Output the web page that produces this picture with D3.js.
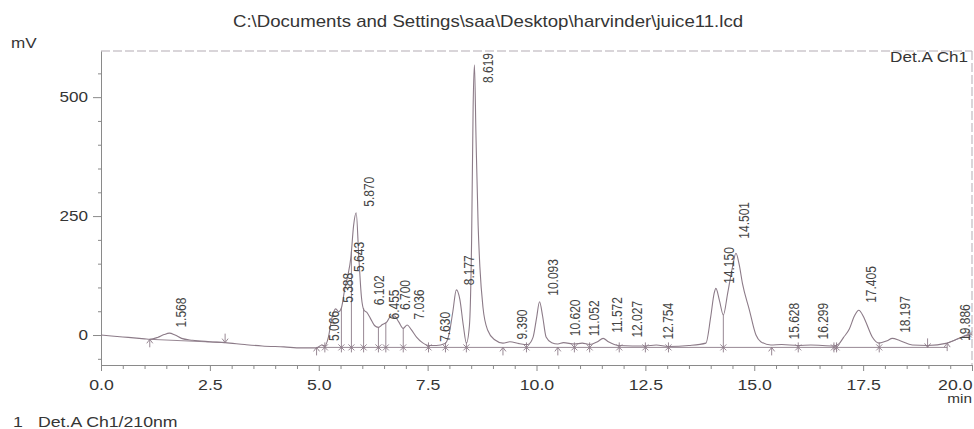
<!DOCTYPE html>
<html>
<head>
<meta charset="utf-8">
<script src="https://cdn.jsdelivr.net/npm/d3@7"></script>
<style>
    body { margin: 0; background: #fff; }
    svg { display: block; font-family: "Liberation Sans", Arial, sans-serif; }
</style>
</head>
<body>
<svg id="chart" width="974" height="429"></svg>
<script>
// detector trace (min, mV)
const traceTime = [0.00, 0.50, 1.00, 1.12, 1.30, 1.45, 1.57, 1.70, 1.85, 2.10, 2.50, 2.85, 3.30, 3.70, 4.20, 4.60,
    4.95, 5.07, 5.14, 5.22, 5.30, 5.39, 5.46, 5.52, 5.60, 5.66, 5.74, 5.80, 5.86, 5.92, 5.98, 6.04, 6.10, 6.18,
    6.28, 6.37, 6.46, 6.56, 6.66, 6.74, 6.84, 6.94, 7.03, 7.12, 7.25, 7.38, 7.52, 7.70, 7.90, 8.00, 8.08, 8.16,
    8.24, 8.32, 8.39, 8.46, 8.51, 8.545, 8.575, 8.61, 8.66, 8.70, 8.77, 8.88, 9.04, 9.23, 9.39, 9.60, 9.80, 9.92,
    10.00, 10.07, 10.14, 10.22, 10.35, 10.49, 10.62, 10.87, 11.05, 11.22, 11.40, 11.53, 11.65, 11.90, 12.20, 12.50,
    12.75, 13.03, 13.50, 13.89, 14.00, 14.08, 14.12, 14.20, 14.29, 14.39, 14.50, 14.58, 14.65, 14.73, 14.89, 15.04,
    15.15, 15.38, 15.63, 16.00, 16.30, 16.83, 16.95, 17.05, 17.18, 17.30, 17.40, 17.50, 17.56, 17.71, 17.87, 18.05,
    18.17, 18.35, 18.63, 18.98, 19.43, 19.70, 19.97, 20.00];
const traceMv = [0, -4, -8, -9, -5, 1, 4, 0, -7, -11, -14, -16, -20, -23, -25, -27,
    -27, -21, -23, -5, 35, 55, 49, 57, 98, 122, 165, 230, 257, 164, 80, 52, 48, 36,
    20, 16, 22, 27, 40, 40, 27, 14, 21, 12, -5, -16, -22, -22, -18, 5, 50, 95,
    75, 20, -17, 20, 200, 480, 568, 420, 230, 143, 59, 10, -10, -17, -14, -18, -20, -5,
    35, 70, 40, -4, -16, -19, -16, -19, -17, -20, -14, -7, -14, -22, -23, -23,
    -21, -24, -22, -17, 38, 88, 98, 73, 42, 88, 143, 172, 150, 108, 52, 0,
    -14, -21, -20, -22, -21, -23, -18, -5, 12, 40, 52, 40, 28, -4, -17, -12,
    -7, -12, -21, -22, -17, -7, 2, 2];

// retention times printed over the peaks, and the level each label sits at
const peakTimes = [1.568, 5.066, 5.388, 5.643, 5.870, 6.102, 6.455, 6.700, 7.036, 7.630, 8.177, 8.619, 9.390,
    10.093, 10.620, 11.052, 11.572, 12.027, 12.754, 14.150, 14.501, 15.628, 16.299, 17.405, 18.197, 19.886];
const labelLevel = [3, -25, 55, 120, 257, 50, 20, 40, 20, -27, 92, 568, -22,
    70, -15, -15, -8, -18, -22, 95, 190, -22, -22, 55, -8, -25];

// integration marks and baselines
const markTimes = [1.12, 2.85, 4.95, 5.14, 5.52, 5.75, 6.03, 6.37, 6.54, 6.94, 7.52, 7.91, 8.39, 9.23, 9.77,
    10.49, 10.87, 11.22, 11.90, 12.50, 13.03, 14.29, 15.40, 16.01, 16.83, 16.89, 17.87, 18.98, 19.43, 19.93];
const markKinds = ["up", "down", "up", "x", "x", "x", "x", "x", "x", "x", "x", "x", "x", "up", "x",
    "up", "x", "x", "x", "x", "x", "x", "up", "x", "x", "x", "x", "down", "up", "x"];
const baseStart = [1.12, 4.95, 19.43];
const baseEnd = [2.85, 19.43, 19.93];
const baseFrom = [-9, -26, -17];
const baseTo = [-16, -26, 1];

const xTicks = [0, 2.5, 5, 7.5, 10, 12.5, 15, 17.5, 20];
const yTicks = [0, 250, 500];

const svg = d3.select("#chart");
const plotL = 101, plotR = 972, plotT = 51, plotB = 365;
const sx = 1.18; // the scan is a bit wider than tall
const ink = "#353535";
const axisCol = "#8a8a8a";
const penCol = "#8c7b88";

const x = d3.scaleLinear().domain([0, 20]).range([plotL, plotR]);
const y = d3.scaleLinear().domain([-63, 597]).range([plotB, plotT]);

function traceAt(t) {
    const i = d3.bisectLeft(traceTime, t);
    if (i <= 0) return traceMv[0];
    if (i >= traceTime.length) return traceMv[traceMv.length - 1];
    const t0 = traceTime[i - 1], t1 = traceTime[i];
    return traceMv[i - 1] + (traceMv[i] - traceMv[i - 1]) * (t - t0) / (t1 - t0);
}

function baseAt(t) {
    let v = null;
    baseStart.forEach((s, i) => {
        if (t >= s - 1e-6 && t <= baseEnd[i] + 1e-6) {
            v = baseFrom[i] + (baseTo[i] - baseFrom[i]) * (t - s) / (baseEnd[i] - s);
        }
    });
    return v === null ? traceAt(t) : v;
}

function addText(txt, px, py, size, anchor) {
    return svg.append("text")
        .attr("transform", `translate(${px},${py}) scale(${sx},1)`)
        .attr("text-anchor", anchor || "start")
        .attr("font-size", size)
        .attr("fill", ink)
        .text(txt);
}

// frame: dashed top and right
svg.append("line").attr("x1", plotL).attr("x2", plotR).attr("y1", plotT).attr("y2", plotT)
    .attr("stroke", "#b3abb3").attr("stroke-dasharray", "9,3");
svg.append("line").attr("x1", plotR).attr("x2", plotR).attr("y1", plotT).attr("y2", plotB)
    .attr("stroke", "#b3abb3").attr("stroke-dasharray", "9,3");

// x axis
const xMinor = d3.range(0, 20.01, 0.5).filter(d => xTicks.indexOf(d) < 0);
const xm = svg.append("g").attr("transform", `translate(0,${plotB})`)
    .call(d3.axisBottom(x).tickValues(xMinor).tickSize(4).tickSizeOuter(0).tickFormat(""));
xm.select(".domain").remove();
xm.selectAll(".tick line").attr("stroke", axisCol);

const xa = svg.append("g").attr("transform", `translate(0,${plotB})`)
    .call(d3.axisBottom(x).tickValues(xTicks).tickSize(6).tickSizeOuter(0).tickPadding(8)
        .tickFormat(d3.format(".1f")));
xa.select(".domain").attr("stroke", axisCol);
xa.selectAll(".tick line").attr("stroke", axisCol);
xa.selectAll(".tick text")
    .attr("font-family", "Liberation Sans, Arial, sans-serif")
    .attr("font-size", 15)
    .attr("fill", ink)
    .attr("transform", `scale(${sx},1)`)
    .filter(d => d === 20).attr("text-anchor", "end");

// y axis
const yMinor = d3.range(-50, 551, 50).filter(d => yTicks.indexOf(d) < 0);
const ym = svg.append("g").attr("transform", `translate(${plotL},0)`)
    .call(d3.axisLeft(y).tickValues(yMinor).tickSize(3).tickSizeOuter(0).tickFormat(""));
ym.select(".domain").remove();
ym.selectAll(".tick line").attr("stroke", axisCol);

const ya = svg.append("g").attr("transform", `translate(${plotL},0)`)
    .call(d3.axisLeft(y).tickValues(yTicks).tickSize(8).tickSizeOuter(0).tickPadding(3));
ya.select(".domain").attr("stroke", axisCol);
ya.selectAll(".tick line").attr("stroke", axisCol);
ya.selectAll(".tick text")
    .attr("font-family", "Liberation Sans, Arial, sans-serif")
    .attr("font-size", 14.5)
    .attr("fill", ink)
    .attr("transform", `scale(${sx},1)`);

// texts around the plot
addText("C:\\Documents and Settings\\saa\\Desktop\\harvinder\\juice11.lcd", 488, 27, 15.8, "middle");
addText("mV", 11, 48, 14.5);
addText("Det.A Ch1", 968, 62, 14.5, "end");
addText("min", 972, 403, 13, "end");
addText("1", 13, 427, 15);
addText("Det.A Ch1/210nm", 38, 427, 15);

// baselines
const marks = svg.append("g").attr("stroke", penCol).attr("fill", "none").attr("stroke-width", 0.9);
baseStart.forEach((s, i) => {
    marks.append("line")
        .attr("x1", x(s)).attr("y1", y(baseFrom[i]))
        .attr("x2", x(baseEnd[i])).attr("y2", y(baseTo[i]));
});

// integration marks and drop lines
markTimes.forEach((t, i) => {
    const mx = x(t), by = y(baseAt(t));
    const kind = markKinds[i];
    if (kind === "x") {
        const ty = Math.min(by - 5, y(traceAt(t)));
        marks.append("line").attr("x1", mx).attr("x2", mx).attr("y1", by + 5).attr("y2", ty);
        marks.append("path").attr("d", `M${mx - 3},${by - 3}L${mx + 3},${by + 3}M${mx - 3},${by + 3}L${mx + 3},${by - 3}`);
    } else if (kind === "up") {
        marks.append("path").attr("d", `M${mx},${by + 8}L${mx},${by}M${mx - 3},${by + 4}L${mx},${by}L${mx + 3},${by + 4}`);
    } else {
        marks.append("path").attr("d", `M${mx},${by - 9}L${mx},${by}M${mx - 3},${by - 4}L${mx},${by}L${mx + 3},${by - 4}`);
    }
});

// chromatogram
const line = d3.line()
    .x((d, i) => x(traceTime[i]))
    .y(d => y(d))
    .curve(d3.curveMonotoneX);

svg.append("path")
    .datum(traceMv)
    .attr("fill", "none")
    .attr("stroke", penCol)
    .attr("stroke-width", 1.1)
    .attr("d", line);

// peak labels, rotated
const fmt = d3.format(".3f");
peakTimes.forEach((t, i) => {
    const px = Math.min(x(t) + 12, plotR - 7);
    const lab = svg.append("text")
        .attr("font-size", 12)
        .attr("fill", "#444")
        .attr("dy", "0.35em")
        .text(fmt(t));
    const len = lab.node().getComputedTextLength();
    let py = y(labelLevel[i]) - 6;
    if (py - len < plotT + 2) py = plotT + 2 + len;
    lab.attr("transform", `translate(${px},${py}) scale(${sx},1) rotate(-90)`);
});
</script>
</body>
</html>
